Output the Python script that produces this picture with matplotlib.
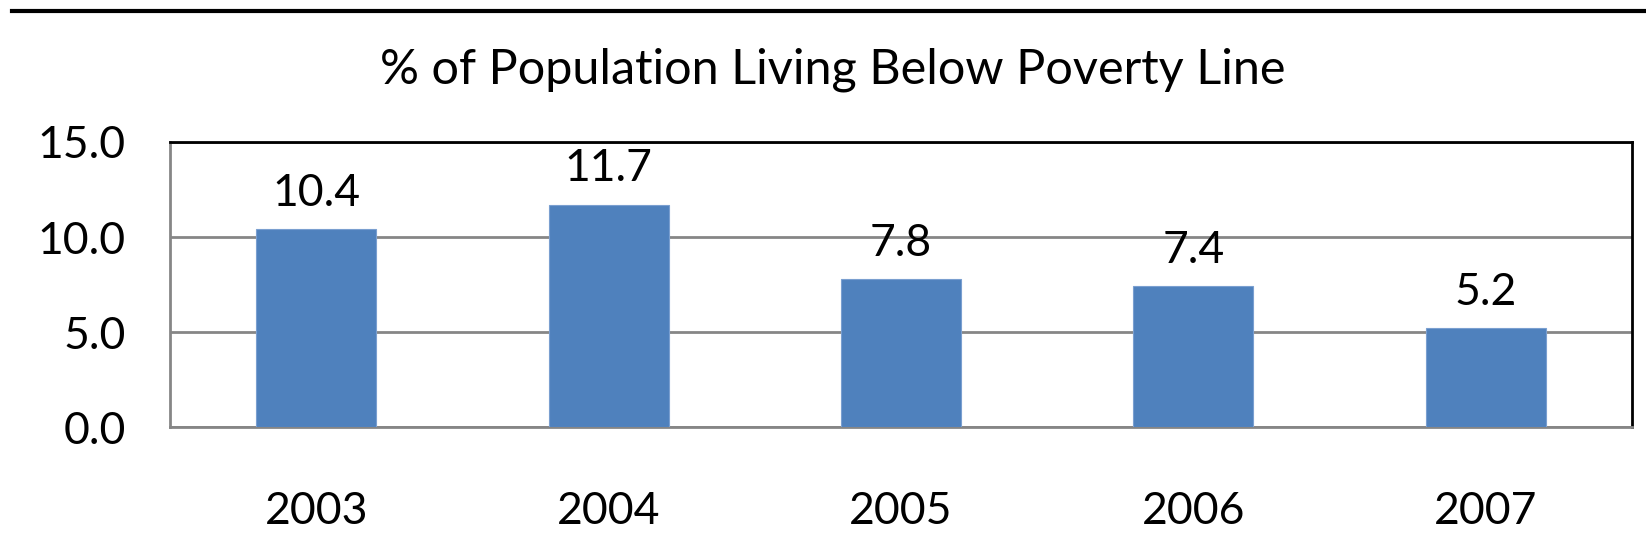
"""Barras: % de población bajo la línea de pobreza, 2003-2007."""
import matplotlib
matplotlib.use('Agg')
import matplotlib.pyplot as plt
from matplotlib.lines import Line2D

plt.rcParams['font.family'] = ['Lato', 'DejaVu Sans']

years = ['2003', '2004', '2005', '2006', '2007']
poverty_pct = [10.4, 11.7, 7.8, 7.4, 5.2]
y_ticks = [0.0, 5.0, 10.0, 15.0]

BAR_COLOR = '#4F81BD'
GRID_COLOR = '#868686'
FS = 32


def main():
    fig = plt.figure(figsize=(16.46, 5.54), dpi=100)
    ax = fig.add_axes([0.1033, 0.2292, 0.8882, 0.5145])

    x = range(len(years))
    bars = ax.bar(x, poverty_pct, width=0.41, color=BAR_COLOR,
                  edgecolor='#7A9FD0', linewidth=0.8, zorder=3)

    for b, v in zip(bars, poverty_pct):
        ax.annotate(f'{v:.1f}', (b.get_x() + b.get_width() / 2, v),
                    xytext=(0, 11), textcoords='offset points',
                    ha='center', va='bottom', fontsize=FS)

    ax.set_xlim(-0.5, len(years) - 0.5)
    ax.set_ylim(0, 15)
    ax.set_yticks(y_ticks)
    ax.set_yticklabels([f'{t:.1f}' for t in y_ticks])
    ax.set_xticks(list(x))
    ax.set_xticklabels(years)
    ax.tick_params(axis='both', length=0, labelsize=FS)
    ax.tick_params(axis='y', pad=32)
    ax.tick_params(axis='x', pad=46)

    # rejilla horizontal gris (la de 15 la tapa el borde superior)
    ax.yaxis.grid(True, color=GRID_COLOR, linewidth=2, zorder=0)
    ax.set_axisbelow(True)

    ax.spines['left'].set_color(GRID_COLOR)
    ax.spines['bottom'].set_color(GRID_COLOR)
    ax.spines['top'].set_color('black')
    ax.spines['right'].set_color('black')
    for s in ax.spines.values():
        s.set_linewidth(2)

    fig.text(833 / 1646, 1 - 70 / 554, '% of Population Living Below Poverty Line',
             ha='center', va='center', fontsize=35)

    # línea negra de separación arriba del gráfico
    fig.add_artist(Line2D([12 / 1646, 1.0], [1 - 11 / 554, 1 - 11 / 554],
                          color='black', linewidth=3))

    fig.savefig('out.png', dpi=100)


if __name__ == '__main__':
    main()
